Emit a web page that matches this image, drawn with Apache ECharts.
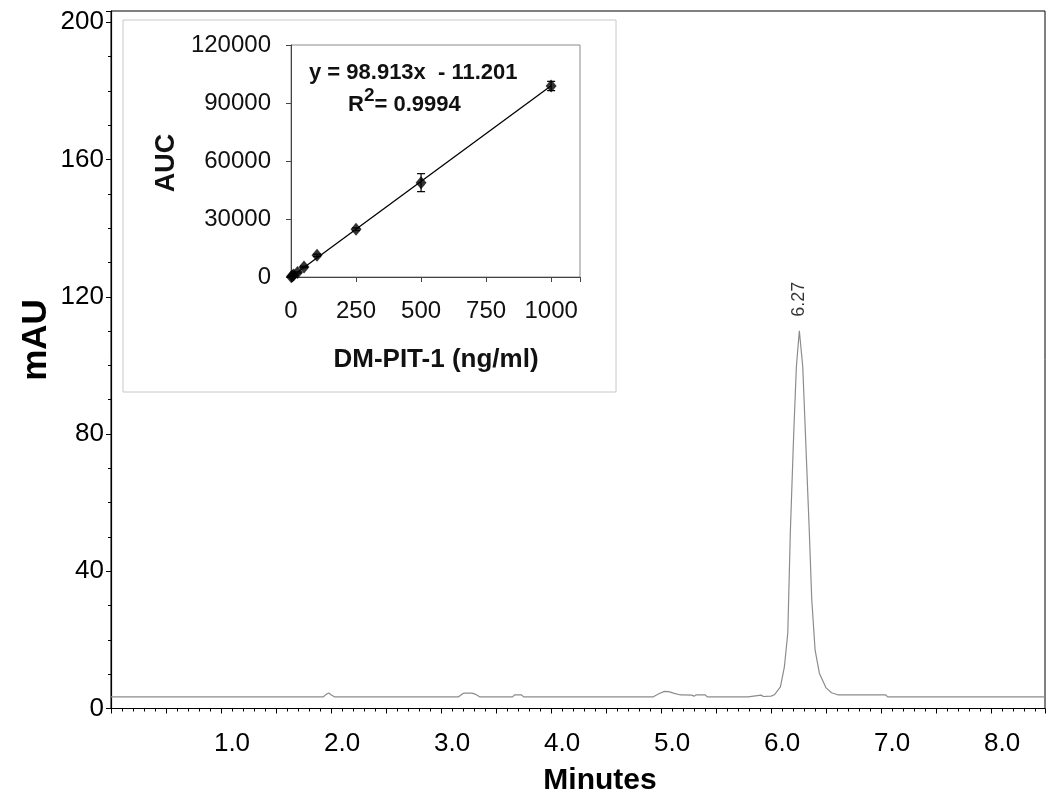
<!DOCTYPE html>
<html>
<head>
<meta charset="utf-8">
<script src="https://cdn.jsdelivr.net/npm/echarts@6/dist/echarts.min.js"></script>
<style>
html,body{margin:0;padding:0;background:#fff;}
#chart{width:1050px;height:800px;}
</style>
</head>
<body>
<div id="chart"></div>
<script>
// ---- Main chromatogram (retention time in minutes, absorbance in mAU)
const timeMin = [0, 1.93, 1.96, 1.98, 2.0, 2.03, 3.16, 3.2, 3.22, 3.28, 3.31, 3.35,
  3.65, 3.67, 3.73, 3.75, 4.93, 4.98, 5.03, 5.07, 5.12, 5.17, 5.2, 5.28, 5.3, 5.32,
  5.4, 5.42, 5.79, 5.8, 5.91, 5.93, 6.0, 6.03, 6.085, 6.121, 6.152, 6.175, 6.206,
  6.23, 6.257, 6.288, 6.312, 6.348, 6.37, 6.4, 6.439, 6.5, 6.55, 6.606, 6.65, 7.04,
  7.06, 8.49];
const absorbance = [3.4, 3.4, 4.2, 4.5, 4.0, 3.4, 3.4, 4.4, 4.5, 4.5, 4.2, 3.4,
  3.4, 4.0, 4.0, 3.4, 3.4, 4.3, 5.0, 4.9, 4.4, 4.0, 4.0, 3.9, 3.6, 4.0,
  4.0, 3.4, 3.4, 3.9, 3.9, 3.5, 3.6, 4.0, 6.3, 12.1, 22.0, 51.2, 80.3,
  99.6, 110.1, 99.6, 80.3, 51.2, 31.6, 17.1, 10.3, 6.0, 4.6, 4.0, 4.0, 4.0,
  3.4, 3.4];
const peakLabel = '6.27';
const mainXTicks = [1, 2, 3, 4, 5, 6, 7, 8];
const mainYTicks = [0, 40, 80, 120, 160, 200];

// ---- Inset calibration curve
const concNgMl = [1, 5, 10, 25, 50, 100, 250, 500, 1000];
const aucMean = [100, 480, 1000, 2300, 5200, 11200, 24700, 48800, 98800];
const aucSD = [50, 100, 150, 300, 400, 600, 700, 4650, 2400];
const fitX = [0, 1000];
const fitY = [-11.201, 98901.8];
const insetXTicks = [0, 250, 500, 750, 1000];
const insetYTicks = [0, 30000, 60000, 90000, 120000];
const equationText = 'y = 98.913x  - 11.201';
const r2Value = '= 0.9994';

const FONT = "'Liberation Sans', Arial, Helvetica, sans-serif";

let peakIdx = 0;
absorbance.forEach((v, i) => { if (v > absorbance[peakIdx]) peakIdx = i; });

const chart = echarts.init(document.getElementById('chart'), null, { renderer: 'canvas' });

const option = {
  animation: false,
  backgroundColor: '#fff',
  textStyle: { fontFamily: FONT },
  grid: [
    { left: 111, top: 11, right: 5, bottom: 91.5, show: true, borderColor: '#000', borderWidth: 1, z: 0 },
    { left: 291, top: 45, width: 289, height: 232, show: true, borderColor: '#8a8a8a', borderWidth: 1, z: 5 }
  ],
  xAxis: [
    {
      gridIndex: 0, type: 'value', min: 0, max: 8.49, interval: 0.5,
      axisLine: { show: true, onZero: false, lineStyle: { color: '#000', width: 1.2 } },
      axisTick: { show: true, length: 5, lineStyle: { color: '#000' } },
      minorTick: { show: true, splitNumber: 5, length: 3, lineStyle: { color: '#000' } },
      splitLine: { show: false },
      axisLabel: {
        fontSize: 26, color: '#000', margin: 22, padding: [0, 0, 0, 22], fontFamily: FONT,
        formatter: v => mainXTicks.some(t => Math.abs(t - v) < 1e-6) ? v.toFixed(1) : ''
      }
    },
    {
      gridIndex: 1, type: 'value', min: 0, max: 1111, interval: 250, z: 6,
      axisLine: { show: true, onZero: false, lineStyle: { color: '#444', width: 1 } },
      axisTick: { show: true, length: 5, lineStyle: { color: '#444' } },
      splitLine: { show: false },
      axisLabel: {
        fontSize: 24, color: '#111', margin: 22, fontFamily: FONT,
        formatter: v => insetXTicks.includes(v) ? String(v) : ''
      }
    }
  ],
  yAxis: [
    {
      gridIndex: 0, type: 'value', min: 0, max: 203.3, interval: 40,
      axisLine: { show: true, onZero: false, lineStyle: { color: '#000', width: 1.2 } },
      axisTick: { show: true, length: 5, lineStyle: { color: '#000' } },
      minorTick: { show: true, splitNumber: 4, length: 3, lineStyle: { color: '#000' } },
      splitLine: { show: false },
      axisLabel: {
        fontSize: 26, color: '#000', margin: 7, fontFamily: FONT,
        formatter: v => mainYTicks.includes(v) ? String(v) : ''
      }
    },
    {
      gridIndex: 1, type: 'value', min: 0, max: 120000, interval: 30000, z: 6,
      axisLine: { show: true, onZero: false, lineStyle: { color: '#444', width: 1 } },
      axisTick: { show: true, length: 5, lineStyle: { color: '#444' } },
      splitLine: { show: false },
      axisLabel: {
        fontSize: 24, color: '#111', margin: 20, fontFamily: FONT,
        formatter: v => insetYTicks.includes(v) ? String(v) : ''
      }
    }
  ],
  series: [
    {
      name: 'Chromatogram', type: 'line', xAxisIndex: 0, yAxisIndex: 0,
      data: timeMin.map((t, i) => [t, absorbance[i]]), showSymbol: false, symbol: 'none', smooth: false,
      lineStyle: { color: '#8c8c8c', width: 1.2 }, z: 2
    },
    {
      name: 'Peak label', type: 'scatter', xAxisIndex: 0, yAxisIndex: 0, z: 3,
      data: [[timeMin[peakIdx], absorbance[peakIdx]]],
      symbolSize: 0, itemStyle: { color: '#000' },
      label: {
        show: true, formatter: peakLabel, position: 'top', distance: 14, rotate: 90,
        align: 'left', verticalAlign: 'middle', fontSize: 18, color: '#000', fontFamily: FONT
      }
    },
    {
      name: 'Fit', type: 'line', xAxisIndex: 1, yAxisIndex: 1,
      data: fitX.map((x, i) => [x, fitY[i]]), symbol: 'none',
      lineStyle: { color: '#000', width: 1.3 }, z: 7
    },
    {
      name: 'Error', type: 'custom', xAxisIndex: 1, yAxisIndex: 1, z: 8,
      data: concNgMl.map((x, i) => [x, aucMean[i] - aucSD[i], aucMean[i] + aucSD[i]]),
      encode: { x: 0, y: [1, 2] },
      renderItem: function (params, api) {
        const x = api.value(0);
        const top = api.coord([x, api.value(2)]);
        const bot = api.coord([x, api.value(1)]);
        const w = 4;
        const st = { stroke: '#000', lineWidth: 1.2 };
        return { type: 'group', children: [
          { type: 'line', shape: { x1: top[0], y1: top[1], x2: bot[0], y2: bot[1] }, style: st },
          { type: 'line', shape: { x1: top[0] - w, y1: top[1], x2: top[0] + w, y2: top[1] }, style: st },
          { type: 'line', shape: { x1: bot[0] - w, y1: bot[1], x2: bot[0] + w, y2: bot[1] }, style: st }
        ] };
      }
    },
    {
      name: 'AUC', type: 'scatter', xAxisIndex: 1, yAxisIndex: 1, z: 9,
      data: concNgMl.map((x, i) => [x, aucMean[i]]),
      symbol: 'diamond', symbolSize: [11, 13],
      itemStyle: { color: '#000' }
    }
  ],
  graphic: [
    { type: 'rect', z: 1, shape: { x: 123, y: 20, width: 493, height: 372 },
      style: { fill: '#fff', stroke: '#c8c8c8', lineWidth: 1 } },
    { type: 'text', z: 20, x: 600, y: 781,
      style: { text: 'Minutes', font: 'bold 30px ' + FONT, fill: '#000', align: 'center', verticalAlign: 'middle' } },
    { type: 'text', z: 20, x: 36, y: 340, rotation: Math.PI / 2,
      style: { text: 'mAU', font: 'bold 35px ' + FONT, fill: '#000', align: 'center', verticalAlign: 'middle' } },
    { type: 'text', z: 20, x: 167, y: 163, rotation: Math.PI / 2,
      style: { text: 'AUC', font: 'bold 27px ' + FONT, fill: '#111', align: 'center', verticalAlign: 'middle' } },
    { type: 'text', z: 20, x: 436, y: 360,
      style: { text: 'DM-PIT-1 (ng/ml)', font: 'bold 26px ' + FONT, fill: '#111', align: 'center', verticalAlign: 'middle' } },
    { type: 'text', z: 20, x: 309, y: 73,
      style: { text: equationText, font: 'bold 22px ' + FONT, fill: '#111', align: 'left', verticalAlign: 'middle' } },
    { type: 'text', z: 20, x: 348, y: 101,
      style: {
        text: '{r|R}{s|2}{r|' + r2Value + '}', align: 'left', verticalAlign: 'middle',
        rich: {
          r: { font: 'bold 22px ' + FONT, fill: '#111', color: '#111', lineHeight: 30, verticalAlign: 'bottom' },
          s: { font: 'bold 19px ' + FONT, fill: '#111', color: '#111', lineHeight: 30, verticalAlign: 'top' }
        }
      } }
  ]
};
chart.setOption(option);
</script>
</body>
</html>
